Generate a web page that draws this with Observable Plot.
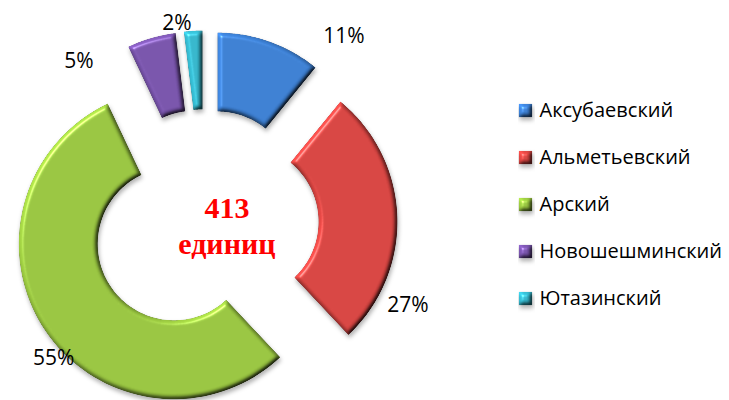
<!DOCTYPE html>
<html>
<head>
<meta charset="utf-8">
<script src="https://cdn.jsdelivr.net/npm/d3@7"></script>
<script src="https://cdn.jsdelivr.net/npm/@observablehq/plot@0.6"></script>
<style>
  html, body { margin: 0; padding: 0; background: #fff; }
  #chart svg { display: block; }
</style>
</head>
<body>
<div id="chart"></div>
<script>
// ---- data ----
const districts = ["Аксубаевский", "Альметьевский", "Арский", "Новошешминский", "Ютазинский"];
const units = [45, 112, 227, 21, 8];
const colors = ["#3b7dcf", "#d44340", "#96c23f", "#7652a8", "#34b3c8"];
const centerWord = "единиц";

// ---- layout ----
const W = 729, H = 400;
const ring = {cx: 204.4, cy: 222.5, rIn: 76.3, rOut: 155.3, explode: 37.3};
// label placement: angle nudge (deg, from slice bisector) and distance from ring centre
const labelNudge = [17, 24, -7.6, -21.8, -4.5];
const labelDist = [233, 219, 203, 205, 202];
const legend = {x: 525, textX: 539, top: 110, step: 47};

const total = d3.sum(units);
const arcs = d3.pie().sort(null).value(d => d)(units);

// slice outlines
const slicePts = [];
arcs.forEach((a, i) => {
  const mid = (a.startAngle + a.endAngle) / 2;
  const ox = ring.explode * Math.sin(mid), oy = -ring.explode * Math.cos(mid);
  const n = 80;
  for (let k = 0; k <= n; k++) {
    const t = a.startAngle + (a.endAngle - a.startAngle) * k / n;
    slicePts.push({name: districts[i], x: ring.cx + ox + ring.rOut * Math.sin(t), y: ring.cy + oy - ring.rOut * Math.cos(t)});
  }
  for (let k = n; k >= 0; k--) {
    const t = a.startAngle + (a.endAngle - a.startAngle) * k / n;
    slicePts.push({name: districts[i], x: ring.cx + ox + ring.rIn * Math.sin(t), y: ring.cy + oy - ring.rIn * Math.cos(t)});
  }
});

const labels = arcs.map((a, i) => {
  const ang = (a.startAngle + a.endAngle) / 2 + labelNudge[i] * Math.PI / 180;
  return {
    text: Math.round(units[i] / total * 100) + "%",
    x: ring.cx + labelDist[i] * Math.sin(ang),
    y: ring.cy - labelDist[i] * Math.cos(ang)
  };
});

const legendRows = districts.map((d, i) => ({name: d, y: legend.top + i * legend.step}));

const chart = Plot.plot({
  width: W, height: H, margin: 0,
  x: {domain: [0, W], range: [0, W], axis: null},
  y: {domain: [0, H], range: [0, H], axis: null},
  color: {domain: districts, range: colors},
  style: {background: "#fff"},
  marks: [
    Plot.line(slicePts, {x: "x", y: "y", z: "name", fill: "name", stroke: "none"}),
    Plot.text(labels, {x: "x", y: "y", text: "text", fontSize: 21, fontFamily: "Open Sans", fill: "#000"}),
    Plot.text([String(total)], {x: ring.cx + 22, y: ring.cy - 15, text: d => d, fontSize: 30, fontWeight: "bold", fontFamily: "Liberation Serif", fill: "#ff0000"}),
    Plot.text([centerWord], {x: ring.cx + 22, y: ring.cy + 21, text: d => d, fontSize: 30, fontWeight: "bold", fontFamily: "Liberation Serif", fill: "#ff0000"}),
    Plot.dot(legendRows, {x: legend.x, y: "y", fill: "name", symbol: "square", r: 7.6, stroke: "none"}),
    Plot.text(legendRows, {x: legend.textX, y: "y", text: "name", textAnchor: "start", fontSize: 20, fontFamily: "Open Sans", fill: "#000"})
  ]
});

document.getElementById("chart").appendChild(chart);

// bevel / shadow effect
const svg = d3.select(chart.tagName.toLowerCase() === "svg" ? chart : chart.querySelector("svg"));
const defs = svg.insert("defs", ":first-child");
const f = defs.append("filter").attr("id", "bevel").attr("x", "-10%").attr("y", "-10%").attr("width", "130%").attr("height", "130%")
  .attr("color-interpolation-filters", "sRGB");
f.append("feGaussianBlur").attr("in", "SourceAlpha").attr("stdDeviation", 2.2).attr("result", "blur");
const dl = f.append("feDiffuseLighting").attr("in", "blur").attr("surfaceScale", 3).attr("diffuseConstant", 1).attr("lighting-color", "#fff").attr("result", "diff");
dl.append("feDistantLight").attr("azimuth", 225).attr("elevation", 55);
f.append("feComposite").attr("in", "SourceGraphic").attr("in2", "diff").attr("operator", "arithmetic").attr("k1", 1.22).attr("k2", 0).attr("k3", 0).attr("k4", 0).attr("result", "shaded");
const sl = f.append("feSpecularLighting").attr("in", "blur").attr("surfaceScale", 3).attr("specularConstant", 0.35).attr("specularExponent", 60).attr("lighting-color", "#fff").attr("result", "spec");
sl.append("feDistantLight").attr("azimuth", 225).attr("elevation", 55);
f.append("feComposite").attr("in", "spec").attr("in2", "SourceAlpha").attr("operator", "in").attr("result", "specIn");
f.append("feComposite").attr("in", "shaded").attr("in2", "specIn").attr("operator", "arithmetic").attr("k1", 0).attr("k2", 1).attr("k3", 1).attr("k4", 0).attr("result", "lit");
f.append("feComposite").attr("in", "lit").attr("in2", "SourceAlpha").attr("operator", "in").attr("result", "litIn");
f.append("feGaussianBlur").attr("in", "SourceAlpha").attr("stdDeviation", 2).attr("result", "sb");
f.append("feOffset").attr("in", "sb").attr("dx", 1).attr("dy", 3).attr("result", "so");
f.append("feFlood").attr("flood-color", "#000").attr("flood-opacity", 0.3).attr("result", "fl");
f.append("feComposite").attr("in", "fl").attr("in2", "so").attr("operator", "in").attr("result", "shadow");
const m = f.append("feMerge");
m.append("feMergeNode").attr("in", "shadow");
m.append("feMergeNode").attr("in", "litIn");

svg.selectAll("g[aria-label='line']").attr("filter", "url(#bevel)");
svg.selectAll("g[aria-label='dot']").attr("filter", "url(#bevel)");
</script>
</body>
</html>
